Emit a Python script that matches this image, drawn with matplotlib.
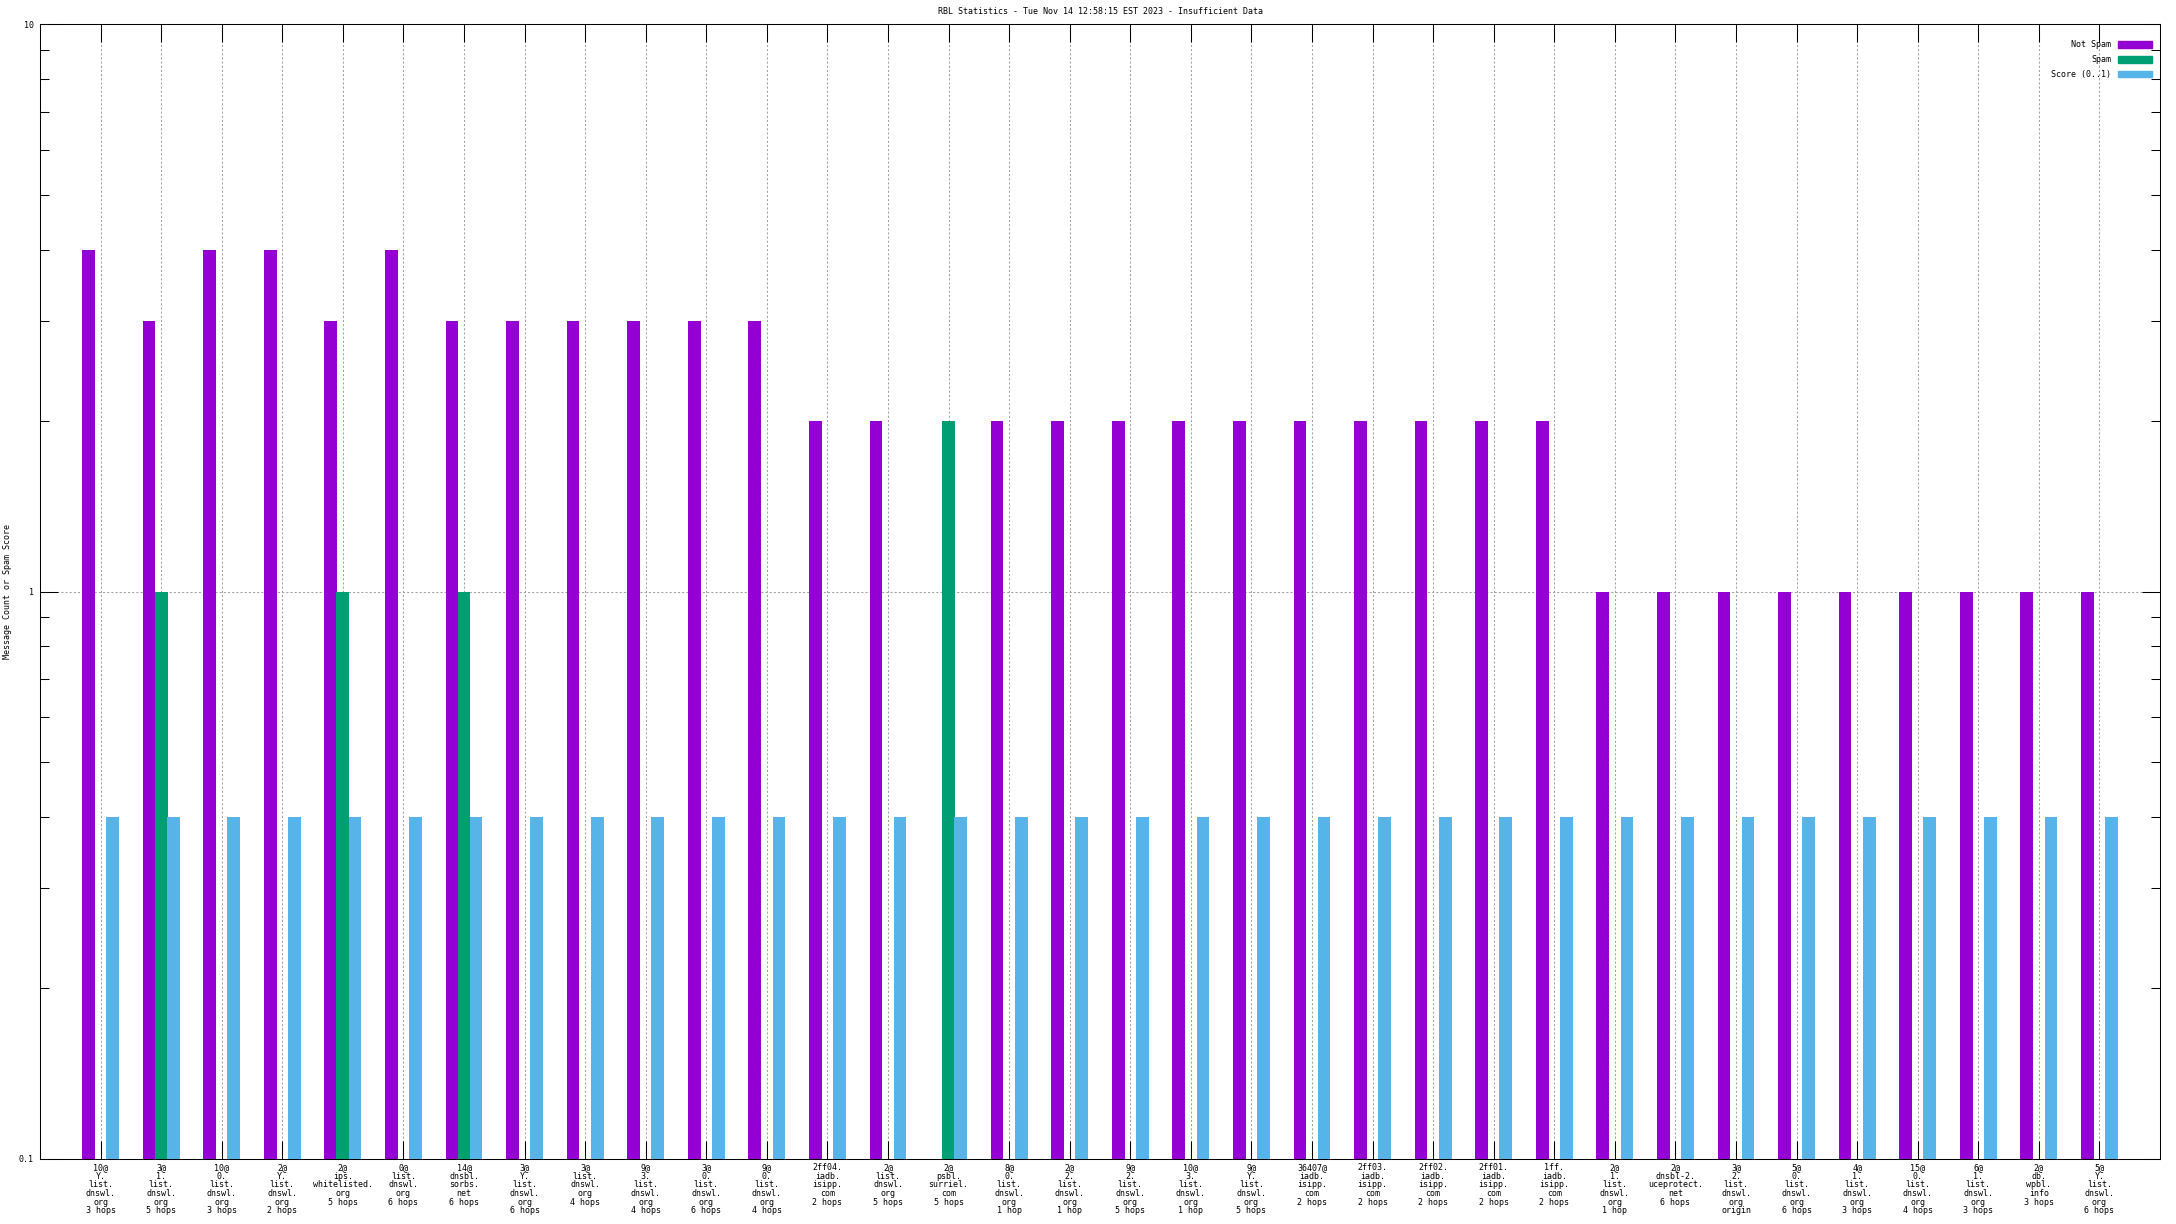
import numpy as np
import matplotlib
matplotlib.use("Agg")
import matplotlib.pyplot as plt
from matplotlib.patches import Patch
from matplotlib.ticker import FixedLocator, LogLocator, NullFormatter, FixedFormatter

plt.rcParams['font.family'] = 'DejaVu Sans Mono'

labels = [
    "10@\nY.\nlist.\ndnswl.\norg\n3 hops",
    "3@\n1.\nlist.\ndnswl.\norg\n5 hops",
    "10@\n0.\nlist.\ndnswl.\norg\n3 hops",
    "2@\nY.\nlist.\ndnswl.\norg\n2 hops",
    "2@\nips.\nwhitelisted.\norg\n5 hops",
    "0@\nlist.\ndnswl.\norg\n6 hops",
    "14@\ndnsbl.\nsorbs.\nnet\n6 hops",
    "3@\nY.\nlist.\ndnswl.\norg\n6 hops",
    "3@\nlist.\ndnswl.\norg\n4 hops",
    "9@\n3.\nlist.\ndnswl.\norg\n4 hops",
    "3@\n0.\nlist.\ndnswl.\norg\n6 hops",
    "9@\n0.\nlist.\ndnswl.\norg\n4 hops",
    "2ff04.\niadb.\nisipp.\ncom\n2 hops",
    "2@\nlist.\ndnswl.\norg\n5 hops",
    "2@\npsbl.\nsurriel.\ncom\n5 hops",
    "8@\n0.\nlist.\ndnswl.\norg\n1 hop",
    "2@\n2.\nlist.\ndnswl.\norg\n1 hop",
    "9@\n2.\nlist.\ndnswl.\norg\n5 hops",
    "10@\n3.\nlist.\ndnswl.\norg\n1 hop",
    "9@\nY.\nlist.\ndnswl.\norg\n5 hops",
    "36407@\niadb.\nisipp.\ncom\n2 hops",
    "2ff03.\niadb.\nisipp.\ncom\n2 hops",
    "2ff02.\niadb.\nisipp.\ncom\n2 hops",
    "2ff01.\niadb.\nisipp.\ncom\n2 hops",
    "1ff.\niadb.\nisipp.\ncom\n2 hops",
    "2@\n1.\nlist.\ndnswl.\norg\n1 hop",
    "2@\ndnsbl-2.\nuceprotect.\nnet\n6 hops",
    "3@\n2.\nlist.\ndnswl.\norg\norigin",
    "5@\n0.\nlist.\ndnswl.\norg\n6 hops",
    "4@\n1.\nlist.\ndnswl.\norg\n3 hops",
    "15@\n0.\nlist.\ndnswl.\norg\n4 hops",
    "6@\n1.\nlist.\ndnswl.\norg\n3 hops",
    "2@\ndb.\nwpbl.\ninfo\n3 hops",
    "5@\nY.\nlist.\ndnswl.\norg\n6 hops",
]
not_spam = [4, 3, 4, 4, 3, 4, 3, 3, 3, 3, 3, 3, 2, 2, 0, 2, 2, 2, 2, 2, 2, 2, 2, 2, 2,
            1, 1, 1, 1, 1, 1, 1, 1, 1]
spam = [0, 1, 0, 0, 1, 0, 1, 0, 0, 0, 0, 0, 0, 0, 2, 0, 0, 0, 0, 0, 0, 0, 0, 0, 0,
        0, 0, 0, 0, 0, 0, 0, 0, 0]
score = [0.4] * 34

c_ns, c_sp, c_sc = '#9400D3', '#009E73', '#56B4E9'
fs = 6.05

fig = plt.figure(figsize=(21.76, 12.24), dpi=100)
ax = fig.add_axes([40/2176, 1-1159/1224, 2120/2176, 1135/1224])

x = np.arange(1, len(labels) + 1)
w = 0.21
ns = np.array(not_spam, float); ns[ns <= 0] = np.nan
sp = np.array(spam, float); sp[sp <= 0] = np.nan
ax.bar(x - 0.2, ns, w, color=c_ns, log=True, zorder=3)
ax.bar(x, sp, w, color=c_sp, log=True, zorder=3)
ax.bar(x + 0.2, score, w, color=c_sc, log=True, zorder=3)

ax.set_yscale('log')
ax.set_ylim(0.1, 10)
ax.set_xlim(0, len(labels) + 1)
ax.yaxis.set_major_locator(FixedLocator([0.1, 1, 10]))
ax.yaxis.set_major_formatter(FixedFormatter(['0.1', '1', '10']))
ax.yaxis.set_minor_locator(LogLocator(base=10, subs=np.arange(2, 10)))
ax.yaxis.set_minor_formatter(NullFormatter())
ax.set_xticks(x)
ax.set_xticklabels(labels, fontsize=fs, linespacing=0.95, va='top')
ax.tick_params(axis='both', which='major', direction='in', length=13, width=0.75,
               top=True, right=True, labelsize=fs)
ax.tick_params(axis='y', which='minor', direction='in', length=6.5, width=0.75, right=True)
ax.tick_params(axis='x', which='major', pad=3)
ax.tick_params(axis='y', which='major', pad=4.5)
for s in ax.spines.values():
    s.set_linewidth(0.75)

ax.grid(True, which='major', color='#a0a0a0', linestyle=(0, (2, 2)), linewidth=0.75, zorder=0)
ax.set_axisbelow(True)

ax.set_ylabel('Message Count or Spam Score', fontsize=fs)
ax.yaxis.set_label_coords(-0.013, 0.5)

fig.text(1100/2176, 1-12/1224, 'RBL Statistics - Tue Nov 14 12:58:15 EST 2023 - Insufficient Data',
         ha='center', va='center', fontsize=fs)

handles = [Patch(color=c_ns), Patch(color=c_sp), Patch(color=c_sc)]
ax.legend(handles, ['Not Spam', 'Spam', 'Score (0..1)'], loc='upper right',
          bbox_to_anchor=(1, 1 - 8/1135),
          frameon=False, markerfirst=False, fontsize=fs, handlelength=4.0,
          handleheight=0.85, labelspacing=0.68, handletextpad=0.8,
          borderaxespad=0.6)

fig.savefig('out.png', dpi=100)
